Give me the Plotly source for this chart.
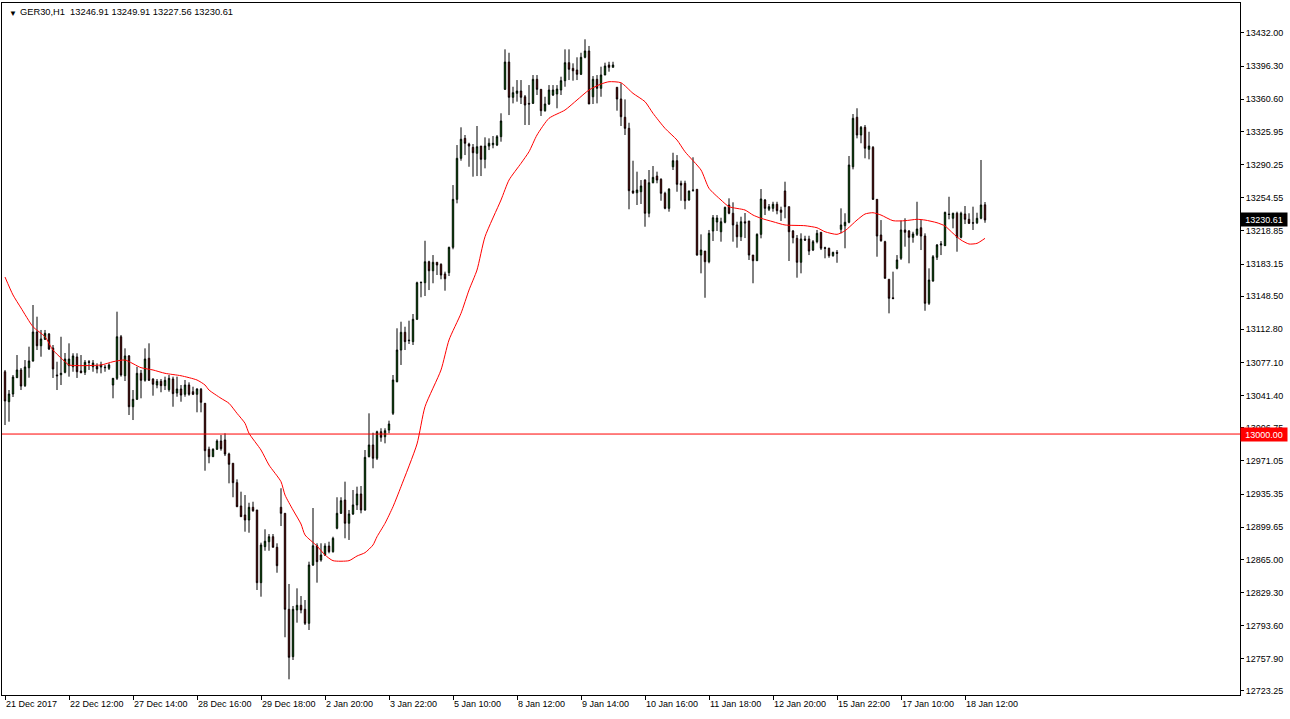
import plotly.graph_objects as go

# ---------------- data (GER30, H1) ----------------
opens = [13067.1,13034.8,13043.1,13060.7,13069.0,13052.1,13071.4,13078.7,13109.9,13095.1,
13102.0,13107.7,13092.7,13063.6,13063.9,13066.5,13073.6,13072.5,13083.0,13067.9,
13066.5,13077.9,13072.5,13073.0,13072.2,13071.4,13070.8,13052.8,13060.0,13104.8,
13062.8,13084.1,13029.4,13037.4,13065.4,13057.9,13081.6,13059.3,13052.8,13056.8,
13052.1,13047.8,13059.3,13044.2,13048.5,13042.8,13052.8,13045.6,13042.8,13048.2,
13033.1,12983.6,12975.6,12983.6,12992.5,12993.6,12978.5,12968.5,12947.6,12922.5,
12912.8,12907.4,12921.1,12918.2,12839.9,12878.7,12884.0,12889.4,12878.0,12921.1,
12914.6,12811.2,12760.2,12810.5,12815.5,12811.2,12796.1,12858.9,12879.7,12864.3,
12869.7,12879.4,12873.3,12898.5,12914.6,12928.9,12903.9,12913.9,12923.6,12935.4,
12918.2,12975.6,12988.2,12973.9,13002.5,12997.1,13004.3,13022.3,13056.4,13090.5,
13109.6,13100.5,13099.5,13123.6,13163.0,13163.0,13185.6,13175.9,13185.0,13182.8,
13172.4,13173.8,13201.1,13252.8,13297.0,13318.5,13312.4,13308.8,13302.4,13310.2,
13295.9,13310.2,13311.6,13311.3,13320.3,13371.3,13400.7,13362.7,13367.0,13369.5,
13363.3,13356.2,13356.2,13382.1,13371.3,13348.3,13355.5,13365.2,13366.3,13370.6,
13380.6,13400.0,13393.9,13392.1,13387.5,13405.8,13412.6,13363.3,13382.1,13372.4,
13386.7,13397.5,13395.0,13373.5,13360.9,13341.2,13329.3,13261.8,13259.9,13261.0,
13273.6,13237.8,13270.7,13277.9,13274.4,13259.3,13243.1,13287.9,13294.4,13270.1,
13270.1,13252.1,13262.9,13263.6,13192.8,13197.1,13185.6,13218.7,13228.4,13217.9,
13228.1,13246.7,13237.8,13225.2,13212.5,13228.7,13229.5,13192.8,13186.7,13215.1,
13252.1,13242.1,13243.1,13247.5,13241.3,13261.8,13244.9,13218.7,13210.8,13185.0,
13210.1,13210.1,13198.2,13207.2,13217.3,13200.7,13200.1,13192.1,13195.7,13220.5,
13224.4,13228.1,13287.9,13341.2,13322.1,13330.4,13306.7,13308.8,13252.8,13214.4,
13207.2,13166.7,13146.8,13178.5,13189.3,13219.8,13218.7,13211.9,13215.1,13222.2,
13213.3,13140.8,13164.8,13190.4,13203.6,13202.9,13237.0,13232.4,13237.8,13211.9,
13237.0,13231.3,13227.6,13227.6,13232.4,13246.91]

highs = [13069.0,13047.4,13063.6,13085.1,13071.1,13079.7,13094.1,13139.0,13126.4,13112.1,
13112.1,13108.8,13095.9,13077.9,13104.8,13087.3,13097.7,13087.0,13087.0,13085.1,
13079.7,13079.7,13079.7,13076.2,13077.9,13074.4,13076.2,13060.4,13131.8,13106.7,
13092.3,13085.1,13047.4,13072.5,13069.0,13092.3,13097.7,13060.0,13059.3,13059.3,
13061.8,13063.6,13061.8,13061.8,13052.8,13058.2,13055.7,13051.0,13049.3,13049.6,
13033.4,12986.4,12984.6,12994.3,12999.0,13000.8,12979.9,12968.5,12951.2,12937.9,
12934.3,12926.0,12927.1,12918.2,12883.0,12897.4,12892.3,12892.3,12882.3,12941.6,
12914.6,12838.5,12814.8,12833.8,12825.5,12821.2,12862.5,12920.3,12882.3,12882.3,
12882.3,12884.0,12889.4,12931.9,12931.9,12948.7,12918.2,12939.7,12943.3,12944.0,
12982.8,13022.3,13001.4,13003.6,13006.2,13006.2,13014.4,13063.6,13113.9,13121.0,
13115.6,13122.1,13129.3,13164.1,13164.1,13208.2,13186.7,13192.8,13185.0,13183.9,
13174.9,13201.8,13268.2,13311.3,13330.4,13322.1,13313.8,13312.4,13331.8,13310.2,
13319.6,13318.5,13321.0,13322.1,13345.5,13414.4,13410.7,13374.1,13381.3,13381.3,
13365.2,13375.9,13386.7,13386.7,13371.3,13363.3,13375.9,13375.9,13375.9,13384.9,
13414.4,13414.4,13399.3,13405.8,13410.7,13425.2,13418.0,13385.6,13386.7,13395.7,
13400.0,13401.0,13401.0,13373.5,13377.8,13360.5,13335.3,13294.4,13282.6,13273.6,
13274.4,13284.4,13288.7,13282.6,13275.5,13261.0,13264.7,13303.0,13300.5,13272.9,
13272.9,13262.1,13298.1,13263.6,13215.1,13197.1,13219.8,13235.9,13235.9,13233.0,
13244.9,13253.9,13249.6,13228.7,13234.1,13238.1,13229.5,13192.8,13216.2,13263.9,
13253.2,13247.8,13250.2,13250.2,13244.9,13271.8,13244.9,13219.8,13214.4,13216.2,
13213.6,13213.6,13209.0,13219.8,13217.3,13201.8,13200.7,13196.4,13198.2,13243.1,
13237.8,13299.5,13344.7,13350.9,13331.8,13332.9,13325.6,13310.2,13252.8,13230.5,
13208.2,13166.7,13174.9,13192.8,13229.8,13232.4,13219.8,13217.9,13250.2,13230.5,
13216.2,13178.5,13192.8,13204.7,13207.9,13239.5,13255.6,13238.4,13239.5,13239.5,
13245.6,13237.8,13244.9,13238.4,13295.2,13249.91]

lows = [13009.7,13013.3,13039.9,13060.4,13047.4,13050.7,13060.7,13077.9,13090.5,13083.3,
13101.3,13090.5,13060.4,13047.4,13052.8,13065.4,13061.8,13067.1,13060.4,13065.4,
13063.6,13069.0,13067.1,13065.4,13065.4,13067.1,13069.0,13038.5,13058.2,13061.8,
13057.1,13020.5,13015.1,13036.7,13038.5,13056.4,13057.1,13041.3,13049.3,13045.0,
13047.4,13045.6,13029.4,13040.2,13034.8,13040.2,13041.3,13042.0,13023.4,13023.4,
12960.5,12968.5,12975.6,12982.8,12982.1,12976.3,12946.9,12931.9,12921.7,12911.0,
12894.8,12893.7,12916.3,12832.0,12824.8,12874.3,12874.3,12878.0,12850.6,12900.9,
12781.1,12735.8,12756.6,12796.8,12806.9,12794.3,12788.9,12857.9,12839.9,12862.5,
12868.6,12871.5,12872.2,12897.4,12913.9,12887.7,12885.9,12912.8,12918.2,12914.6,
12917.4,12974.9,12963.1,12972.0,12991.7,12990.0,13000.8,13020.5,13055.7,13074.4,
13090.5,13097.0,13095.9,13122.8,13147.3,13148.7,13155.1,13162.4,13171.3,13166.7,
13154.4,13170.2,13199.0,13248.5,13294.4,13300.5,13287.9,13277.2,13277.9,13277.9,
13286.2,13305.9,13307.8,13310.2,13314.9,13370.6,13343.6,13356.2,13358.0,13355.5,
13332.9,13332.9,13355.5,13365.2,13342.6,13347.2,13354.4,13364.1,13350.9,13365.2,
13374.1,13381.3,13380.6,13381.3,13386.7,13404.7,13355.5,13355.5,13356.2,13363.3,
13386.7,13390.3,13395.0,13348.3,13331.8,13322.1,13242.1,13258.5,13246.7,13247.8,
13223.3,13233.5,13270.1,13270.1,13251.3,13242.1,13239.5,13284.4,13261.0,13251.3,
13242.1,13251.3,13261.0,13192.1,13173.1,13146.8,13183.9,13207.9,13218.7,13207.2,
13227.0,13236.7,13207.2,13200.7,13207.9,13211.1,13187.5,13162.4,13186.4,13210.8,
13235.9,13240.2,13239.5,13236.7,13229.5,13232.4,13186.4,13205.4,13168.4,13173.1,
13207.9,13192.8,13197.1,13205.4,13198.2,13189.3,13189.9,13191.0,13184.5,13216.2,
13200.1,13227.0,13285.1,13318.5,13313.2,13297.0,13295.9,13252.1,13191.0,13207.2,
13167.7,13130.0,13145.1,13177.4,13187.5,13201.8,13183.9,13206.1,13213.3,13198.2,
13132.8,13139.0,13164.1,13187.5,13192.8,13202.5,13231.3,13221.6,13196.4,13210.8,
13226.2,13226.2,13219.8,13226.2,13231.3,13227.56]

closes = [13035.6,13043.1,13061.4,13069.0,13051.7,13072.2,13078.7,13109.9,13095.1,13102.4,
13108.5,13091.6,13070.1,13062.8,13065.4,13080.8,13080.8,13084.1,13067.1,13066.1,
13077.3,13077.3,13076.5,13070.1,13074.4,13071.9,13074.4,13060.0,13104.8,13063.6,
13084.1,13029.4,13037.4,13065.4,13057.9,13080.8,13057.9,13053.6,13056.8,13052.1,
13057.9,13060.0,13043.5,13048.5,13042.0,13052.8,13042.8,13042.8,13048.5,13034.2,
12982.1,12975.6,12983.6,12992.5,12984.2,12978.5,12967.4,12947.6,12921.7,12911.0,
12907.4,12921.1,12917.4,12839.9,12880.5,12884.5,12889.4,12878.0,12858.2,12914.6,
12811.2,12759.5,12811.2,12815.5,12810.5,12796.1,12858.9,12879.7,12862.5,12869.7,
12879.4,12873.3,12887.7,12914.6,12928.2,12903.9,12913.9,12923.6,12935.4,12918.2,
12974.9,12988.2,12973.9,13002.5,12996.5,13003.6,13010.8,13058.2,13090.5,13109.6,
13099.5,13101.0,13123.6,13163.0,13163.4,13185.6,13175.9,13185.0,13182.1,13171.3,
13167.3,13201.1,13252.8,13297.0,13317.5,13313.2,13310.2,13303.0,13309.5,13295.9,
13310.2,13313.2,13313.2,13320.3,13337.2,13400.7,13362.7,13367.7,13369.5,13362.7,
13354.4,13355.5,13382.1,13371.3,13348.3,13355.5,13370.6,13370.6,13371.6,13380.6,
13400.0,13392.9,13391.3,13387.5,13405.8,13412.6,13355.5,13382.1,13372.4,13386.7,
13396.4,13395.0,13397.5,13360.9,13341.8,13329.3,13262.1,13259.9,13262.9,13267.2,
13237.8,13270.7,13276.5,13273.6,13259.3,13243.1,13263.9,13294.4,13269.0,13268.2,
13251.3,13261.8,13262.5,13192.8,13198.2,13185.6,13216.2,13233.0,13232.7,13228.7,
13244.2,13237.8,13225.2,13212.5,13228.7,13227.3,13192.8,13186.7,13215.1,13253.2,
13243.1,13244.9,13247.5,13240.6,13238.8,13244.9,13217.9,13211.5,13185.0,13210.1,
13209.0,13197.1,13207.2,13216.2,13200.1,13200.1,13192.1,13195.7,13194.7,13225.2,
13228.1,13289.8,13340.1,13322.1,13330.4,13307.8,13310.2,13252.8,13213.3,13208.2,
13167.7,13146.2,13146.0,13187.5,13219.8,13217.3,13211.9,13215.5,13220.8,13213.3,
13140.8,13165.9,13191.0,13203.6,13204.7,13238.8,13236.5,13237.8,13211.9,13237.8,
13231.3,13227.0,13227.2,13232.4,13246.7,13230.61]

# moving average (bar index -> value)
ma_bar = [0,2,4,7,10,12,15,16,24,27,30,34,37,40,44,48,50,51,54,56,58,60,61,64,66,69,70,72,74,75,
78,80,82,86,88,90,92,93,95,97,99,103,105,109,111,114,116,118,120,124,126,129,131,133,136,140,143,
146,149,151,154,157,160,162,165,168,170,174,176,179,181,185,187,189,192,195,200,203,205,208,210,
213,215,217,219,222,225,228,230,233,235,237,239,241,243,245]
ma_val = [13169.1,13149.8,13135.8,13115.6,13104.8,13090.5,13077.9,13074.4,13074.4,13077.9,13079.7,
13071.5,13069.0,13065.4,13062.8,13058.2,13052.8,13047.4,13038.5,13033.1,13022.3,13011.6,13000.8,
12982.8,12966.6,12948.7,12934.3,12918.2,12903.1,12891.3,12879.4,12869.7,12863.6,12863.6,12868.6,
12872.2,12880.5,12889.4,12903.8,12921.7,12943.3,12989.3,13029.4,13069.0,13101.3,13130.0,13155.1,
13176.7,13212.5,13252.1,13273.6,13291.6,13304.1,13322.1,13340.1,13349.0,13359.8,13370.6,13377.0,
13379.5,13378.4,13367.0,13358.0,13345.5,13329.3,13316.7,13304.1,13284.4,13264.7,13252.1,13244.9,
13241.3,13235.9,13232.4,13228.7,13225.2,13224.4,13222.2,13217.9,13215.1,13219.0,13230.5,13237.0,
13238.4,13235.9,13229.8,13229.8,13231.3,13230.5,13227.6,13224.1,13216.2,13209.0,13204.7,13205.4,
13210.8]

x_label_bar = [0,16,32,48,64,80,96,112,128,144,160,176,192,208,224,240]
x_labels = ["21 Dec 2017","22 Dec 12:00","27 Dec 14:00","28 Dec 16:00","29 Dec 18:00",
            "2 Jan 20:00","3 Jan 22:00","5 Jan 10:00","8 Jan 12:00","9 Jan 14:00",
            "10 Jan 16:00","11 Jan 18:00","12 Jan 20:00","15 Jan 22:00","17 Jan 10:00",
            "18 Jan 12:00"]
y_ticks = [13432.00,13396.30,13360.60,13325.95,13290.25,13254.55,13218.85,13183.15,13148.50,
           13112.80,13077.10,13041.40,13006.75,12971.05,12935.35,12899.65,12865.00,12829.30,
           12793.60,12757.90,12723.25]
level_price = 13000.00
title_text = "GER30,H1  13246.91 13249.91 13227.56 13230.61"

# ---------------- figure ----------------
FONT = "Liberation Sans"
bars = list(range(len(opens)))

fig = go.Figure()
fig.add_trace(go.Candlestick(
    x=bars, open=opens, high=highs, low=lows, close=closes,
    increasing=dict(fillcolor="#00e600", line=dict(color="black", width=1)),
    decreasing=dict(fillcolor="#ff0000", line=dict(color="black", width=1)),
    whiskerwidth=0, hoverinfo="skip", showlegend=False))
fig.add_trace(go.Scatter(x=ma_bar, y=ma_val, mode="lines",
                         line=dict(color="#ff0000", width=1, shape="spline", smoothing=0.6),
                         hoverinfo="skip", showlegend=False))

fig.add_shape(type="line", xref="paper", x0=0, x1=1, yref="y", y0=level_price, y1=level_price,
              line=dict(color="#ff0000", width=1), layer="above")

ann = []
ann.append(dict(xref="paper", yref="paper", x=0, y=1, xanchor="left", yanchor="top",
                xshift=5, yshift=-4, text="▼", showarrow=False,
                font=dict(family=FONT, size=8, color="black")))
ann.append(dict(xref="paper", yref="paper", x=0, y=1, xanchor="left", yanchor="top",
                xshift=16, yshift=-2, text=title_text, showarrow=False,
                font=dict(family=FONT, size=9.3, color="black")))
for b, t in zip(x_label_bar, x_labels):
    ann.append(dict(xref="x", yref="paper", x=b, y=0, xanchor="left", yanchor="top",
                    xshift=-1, yshift=-2, text=t, showarrow=False,
                    font=dict(family=FONT, size=9, color="black")))
ann.append(dict(xref="paper", yref="y", x=1, y=closes[-1], xanchor="left", yanchor="middle",
                text=f"{closes[-1]:.2f}", showarrow=False, bgcolor="black", width=44, height=11,
                borderpad=1, font=dict(family=FONT, size=9, color="white")))
ann.append(dict(xref="paper", yref="y", x=1, y=level_price, xanchor="left", yanchor="middle",
                text=f"{level_price:.2f}", showarrow=False, bgcolor="#ff0000", width=44, height=11,
                borderpad=1, font=dict(family=FONT, size=9, color="white")))

fig.update_layout(
    width=1290, height=719,
    margin=dict(l=2, r=50, t=3, b=24),
    paper_bgcolor="white", plot_bgcolor="white",
    showlegend=False, boxgap=0.5,
    font=dict(family=FONT, size=9, color="black"),
    annotations=ann,
    xaxis=dict(range=[-0.75, 308.75], rangeslider=dict(visible=False), showgrid=False,
               zeroline=False, tickvals=x_label_bar, ticks="outside", ticklen=4,
               tickcolor="black", showticklabels=False, showline=True, linecolor="black",
               linewidth=1, mirror=True, fixedrange=True),
    yaxis=dict(side="right", range=[12718.9, 13464.3], tickvals=y_ticks,
               ticktext=[f"{v:.2f}" for v in y_ticks], ticks="outside", ticklen=3,
               tickcolor="black", showgrid=False, zeroline=False, showline=True,
               linecolor="black", linewidth=1, mirror=True, fixedrange=True,
               tickfont=dict(family=FONT, size=9, color="black")),
)

fig.write_html("out.html", config={"displayModeBar": False},
               post_script="document.body.style.margin='0';document.body.style.overflow='hidden';")
